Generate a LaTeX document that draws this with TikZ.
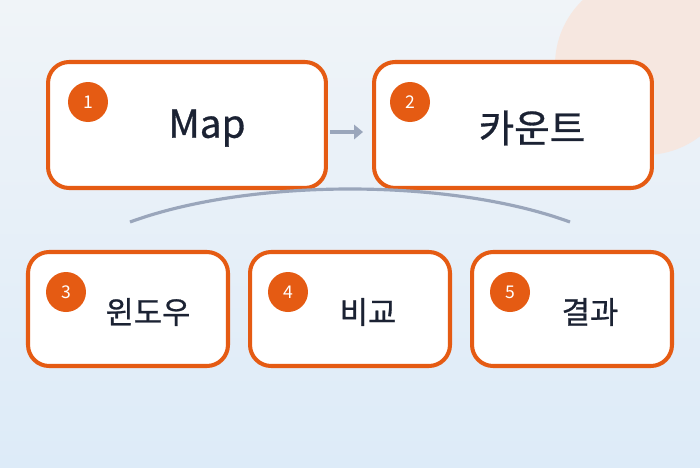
\documentclass[tikz,border=0pt]{standalone}
\usepackage{fontspec}
\setmainfont{Noto Sans CJK KR}
\newfontfamily\medfont[FakeBold=0.8]{Noto Sans CJK KR}
\usetikzlibrary{arrows.meta, positioning}
\definecolor{orng}{HTML}{E55B13}
\definecolor{arcgray}{HTML}{9AA6BB}
\definecolor{bgtop}{HTML}{F0F4F8}
\definecolor{bgbot}{HTML}{DDEBF8}
\definecolor{peach}{HTML}{F6E7E0}
\definecolor{ink}{HTML}{1B2233}
\tikzset{
  bigbox/.style={draw=orng, line width=2.3pt, fill=white, rounded corners=12pt,
    minimum width=5.56cm, minimum height=2.52cm},
  smallbox/.style={draw=orng, line width=2.3pt, fill=white, rounded corners=12pt,
    minimum width=4cm, minimum height=2.28cm},
  bigtxt/.style={text=ink, font=\medfont\fontsize{22}{26}\selectfont},
  smalltxt/.style={text=ink, font=\medfont\fontsize{17.5}{21}\selectfont},
  badge/.style={circle, fill=orng, text=white, minimum size=0.8cm, inner sep=0pt,
    font=\fontsize{10}{12}\selectfont}
}
\begin{document}
\begin{tikzpicture}[x=0.02cm, y=-0.02cm]
  % background
  \useasboundingbox (0,0) rectangle (700,467);
  \shade[top color=bgtop, bottom color=bgbot] (0,0) rectangle (700,467);
  \begin{scope}
    \clip (0,0) rectangle (700,467);
    \fill[peach] (645,65) circle (90);
  \end{scope}

  % top row
  \node[bigbox] (map) at (187,125) {};
  \node[bigbox] (cnt) at (513,125) {};
  \node[bigtxt] (maptxt) at (207,128) {Map};
  \node[bigtxt] (cnttxt) at (532,128) {카운트};
  \node[badge] (b1) at (88,102) {1};
  \node[badge] (b2) at (410,102) {2};
  \coordinate (a1) at (330,132);
  \coordinate (a2) at (363,132);
  \draw[arcgray, line width=2.5pt, -{Triangle[length=5pt,width=8pt]}] (a1) -- (a2);

  % arc
  \coordinate (arcL) at (130,222);
  \coordinate (arcR) at (570,222);
  \draw[arcgray, line width=1.8pt] (arcL) .. controls (250,178) and (450,178) .. (arcR);

  % bottom row
  \node[smallbox] (win) at (128,309) {};
  \node[smallbox] (cmp) at (350,309) {};
  \node[smallbox] (res) at (572,309) {};
  \node[smalltxt] (wintxt) at (148,312) {윈도우};
  \node[smalltxt] (cmptxt) at (368,312) {비교};
  \node[smalltxt] (restxt) at (590,312) {결과};
  \node[badge] (b3) at (66,292) {3};
  \node[badge] (b4) at (288,292) {4};
  \node[badge] (b5) at (510,292) {5};
\end{tikzpicture}
\end{document}
